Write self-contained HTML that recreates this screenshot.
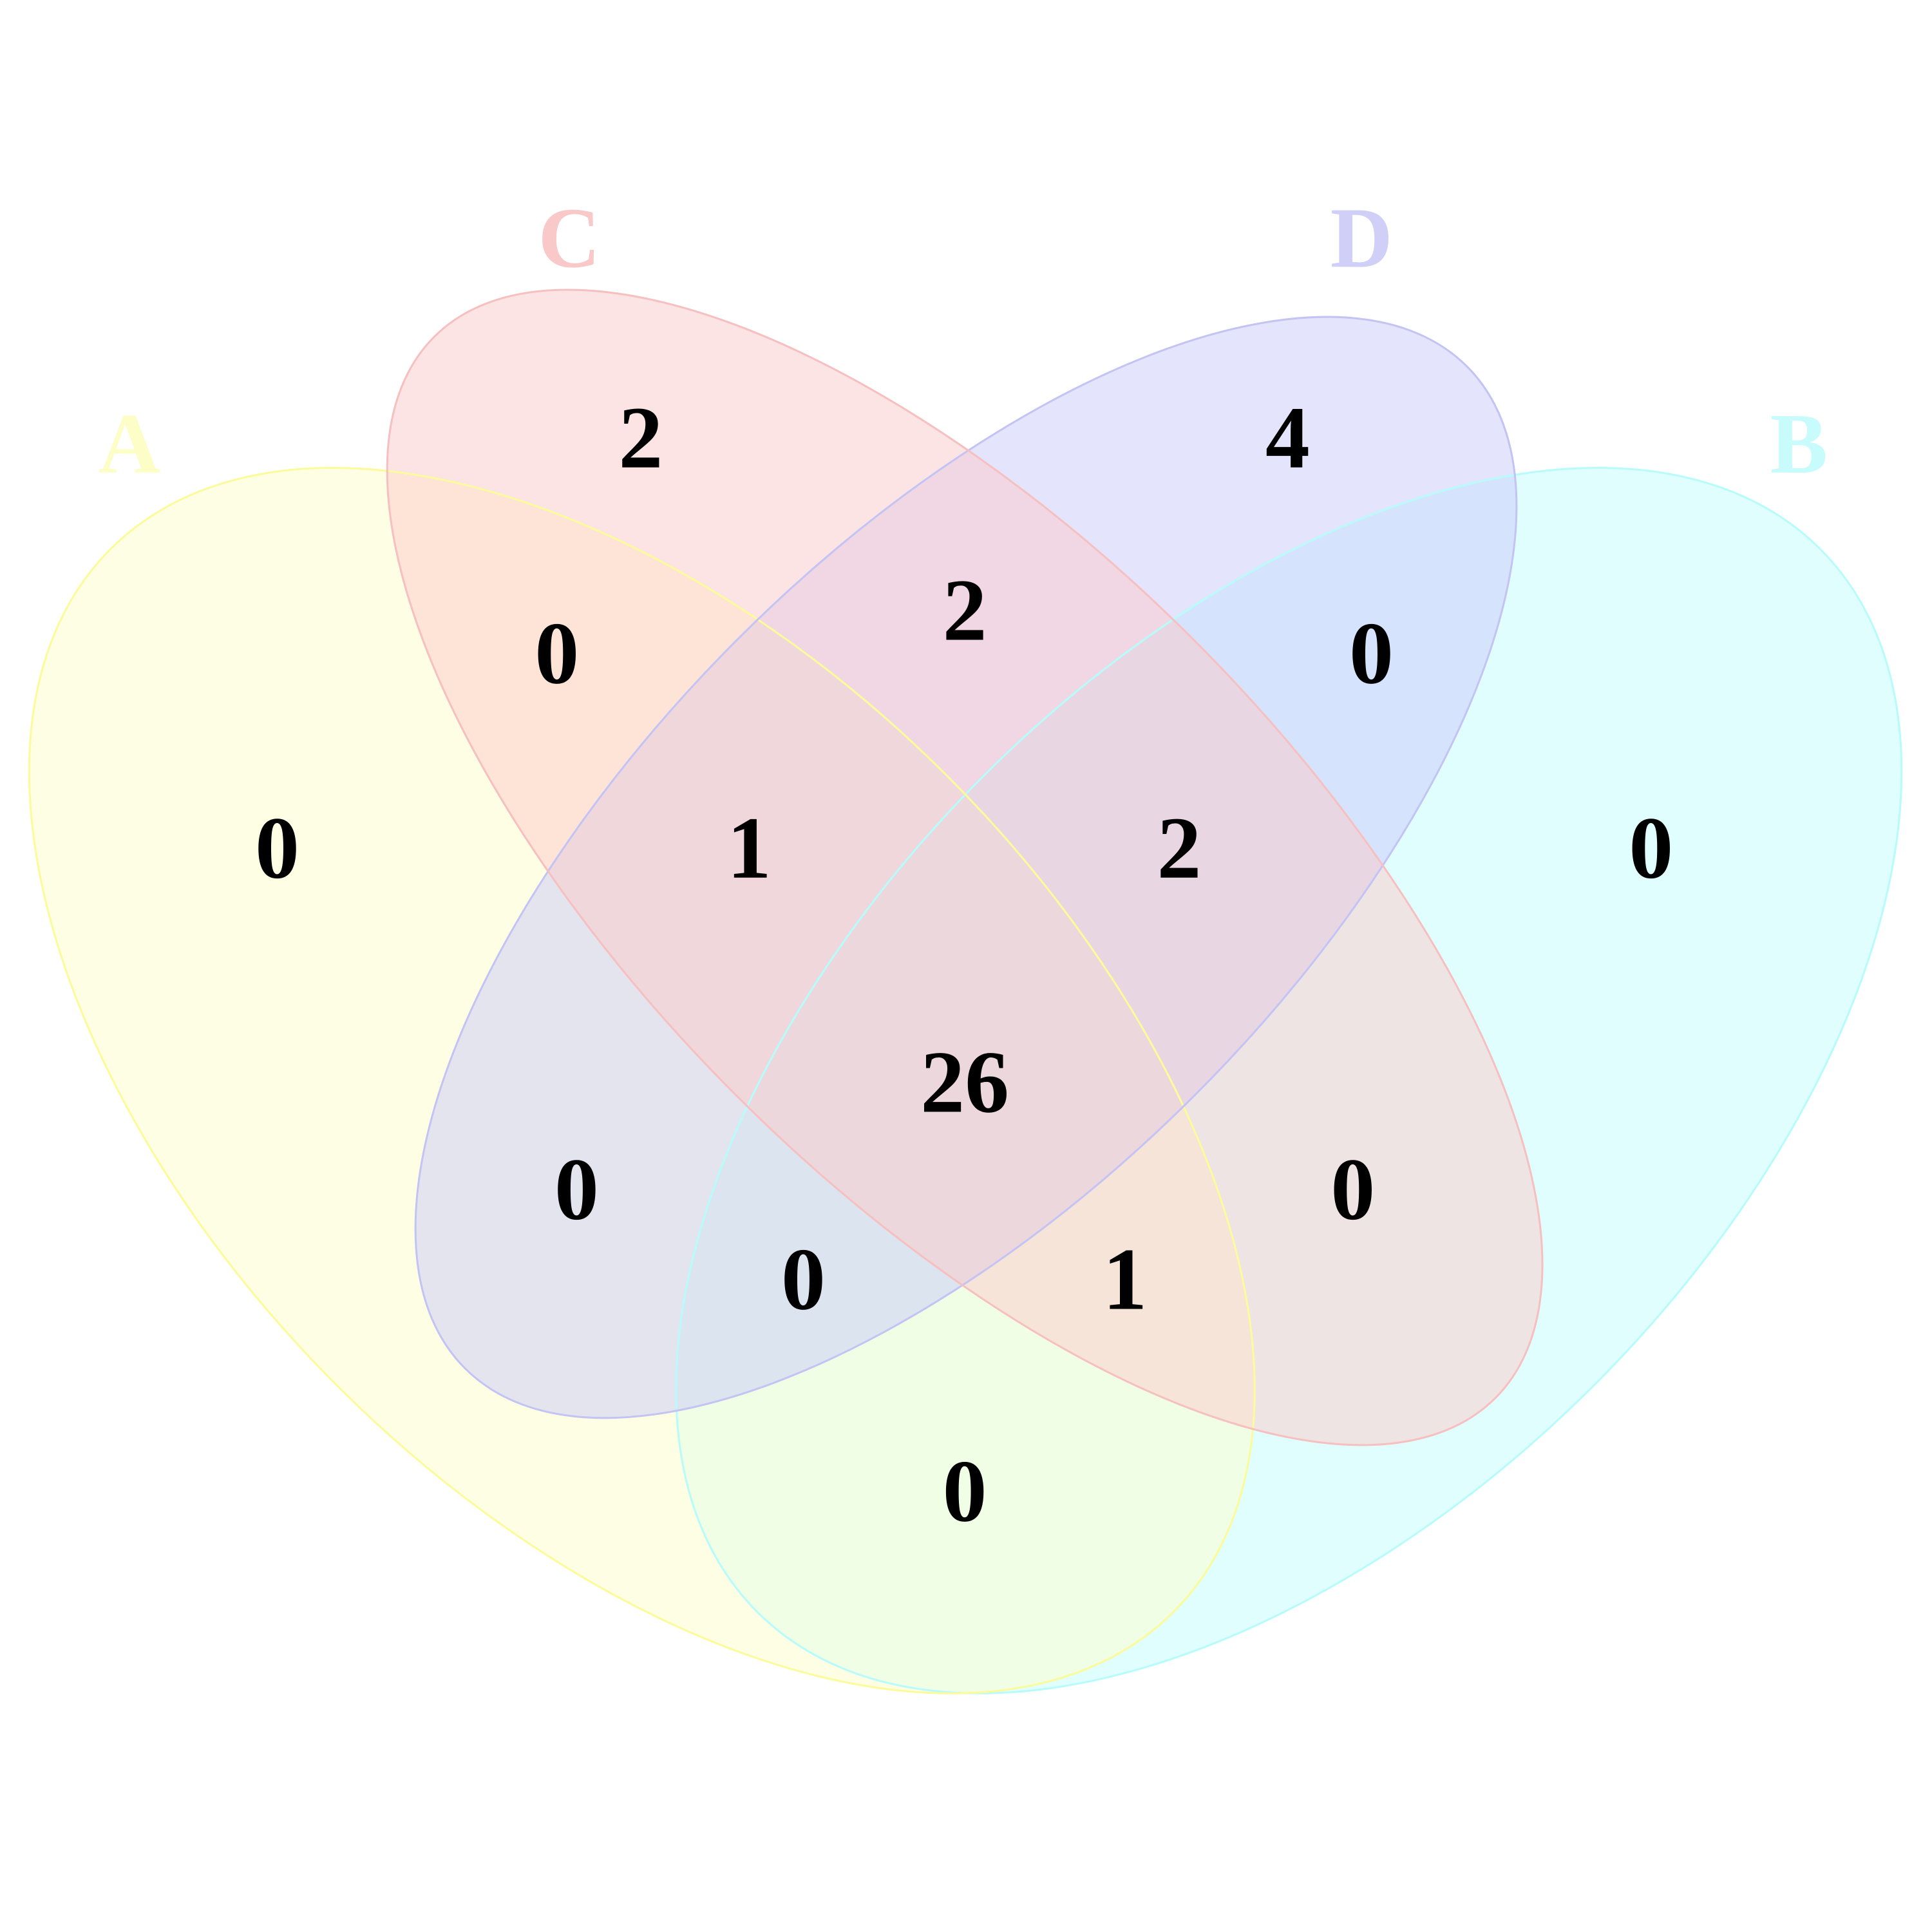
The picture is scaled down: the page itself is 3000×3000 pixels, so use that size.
<!DOCTYPE html>
<html><head><meta charset="utf-8"><style>
html,body{margin:0;padding:0;background:#fff}
svg{display:block}
</style></head><body>
<svg width="3000" height="3000" viewBox="0 0 1568 1568" xmlns="http://www.w3.org/2000/svg">
<g stroke="none">
<ellipse cx="1046" cy="877" rx="610" ry="350" transform="rotate(-45 1046 877)" fill="rgb(193,253,253)" fill-opacity="0.5"/>
<ellipse cx="521" cy="877" rx="610" ry="350" transform="rotate(45 521 877)" fill="rgb(253,253,201)" fill-opacity="0.5"/>
<ellipse cx="784" cy="704" rx="575" ry="262" transform="rotate(-45 784 704)" fill="rgb(201,201,249)" fill-opacity="0.5"/>
<ellipse cx="783" cy="704" rx="609" ry="262" transform="rotate(45 783 704)" fill="rgb(251,201,201)" fill-opacity="0.5"/>
</g>
<g fill="none" stroke-width="1.6">
<ellipse cx="1046" cy="877" rx="610" ry="350" transform="rotate(-45 1046 877)" stroke="#b8fbfb"/>
<ellipse cx="521" cy="877" rx="610" ry="350" transform="rotate(45 521 877)" stroke="#fbfb9c"/>
<ellipse cx="784" cy="704" rx="575" ry="262" transform="rotate(-45 784 704)" stroke="#c4c4f4"/>
<ellipse cx="783" cy="704" rx="609" ry="262" transform="rotate(45 783 704)" stroke="#f6c0c0"/>
</g>
<g font-family="'Liberation Serif',serif" font-weight="bold" font-size="72" text-anchor="middle" dominant-baseline="central" fill="#000">
<text x="520" y="355">2</text>
<text x="1045" y="355">4</text>
<text x="452" y="530">0</text>
<text x="783" y="495">2</text>
<text x="1113" y="530">0</text>
<text x="225" y="688">0</text>
<text x="608" y="688">1</text>
<text x="957" y="688">2</text>
<text x="1340" y="688">0</text>
<text x="783" y="878">26</text>
<text x="468" y="965">0</text>
<text x="1098" y="965">0</text>
<text x="652" y="1038">0</text>
<text x="913" y="1038">1</text>
<text x="783" y="1210">0</text>
</g>
<g font-family="'Liberation Serif',serif" font-weight="bold" font-size="70" text-anchor="middle" dominant-baseline="central">
<text x="462" y="193" fill="#f9c8c8">C</text>
<text x="1105" y="193" fill="#cfcff7">D</text>
<text x="105" y="360" fill="#fdfdc8">A</text>
<text x="1460" y="360" fill="#c8fbfb">B</text>
</g>
</svg>
</body></html>
